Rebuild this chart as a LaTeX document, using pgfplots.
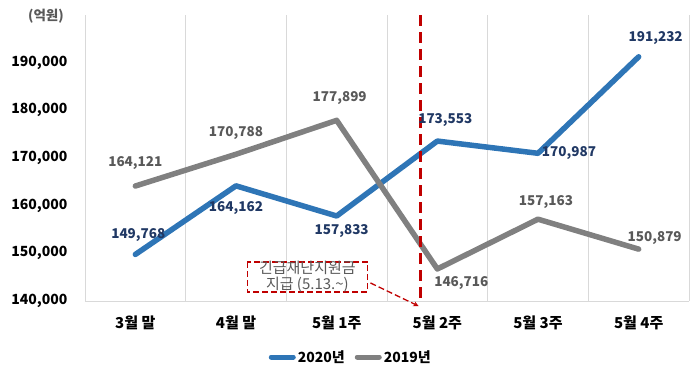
\documentclass[border=0pt]{standalone}
\usepackage{fontspec}
\setmainfont{Noto Sans CJK KR}
\usepackage{pgfplots}
\usepackage{pgfplotstable}
\pgfplotsset{compat=1.18}
\definecolor{blueL}{HTML}{2E75B6}
\definecolor{grayL}{HTML}{808080}
\definecolor{navyT}{HTML}{203864}
\definecolor{grayT}{HTML}{595959}
\definecolor{gridc}{HTML}{D9D9D9}
\definecolor{redL}{HTML}{C00000}

\pgfplotstableread{
x y lab dx dy
0 149768 149,768 3 19
1 164162 164,162 0 -22
2 157833 157,833 5 -15
3 173553 173,553 8 21
4 170987 170,987 31 0
5 191232 191,232 17 19
}\tblA
\pgfplotstableread{
x y lab dx dy
0 164121 164,121 0 23
1 170788 170,788 0 21
2 177899 177,899 3 22
3 146716 146,716 24 -14
4 157163 157,163 8 17
5 150879 150,879 16 11
}\tblB

\begin{document}
\begin{tikzpicture}
\useasboundingbox (0,0) rectangle (700pt,383pt);
\begin{axis}[
  at={(85pt,82pt)}, anchor=south west,
  scale only axis, width=604pt, height=286pt,
  xmin=-0.5, xmax=5.5, ymin=140000, ymax=200000,
  clip=false,
  axis x line*=bottom, axis y line*=left,
  x axis line style={draw=gridc, line width=0.8pt, -},
  y axis line style={draw=none, -},
  xtick={0,1,2,3,4,5},
  xticklabels={3월 말,4월 말,5월 1주,5월 2주,5월 3주,5월 4주},
  minor xtick={-0.5,0.5,1.5,2.5,3.5,4.5,5.5},
  minor x grid style={draw=gridc, line width=0.8pt},
  xminorgrids=true,
  ytick={140000,150000,160000,170000,180000,190000},
  yticklabels={{140,000},{150,000},{160,000},{170,000},{180,000},{190,000}},
  major tick length=0pt, minor tick length=0pt,
  scaled y ticks=false,
  yticklabel style={font=\fontsize{14}{16}\selectfont\bfseries, text=black, xshift=-14pt},
  xticklabel style={font=\fontsize{15}{17}\selectfont\bfseries, text=black, yshift=-11pt},
  legend style={at={(axis description cs:0.44,-0.196)}, anchor=center, draw=none,
    font=\fontsize{14}{16}\selectfont\bfseries, legend columns=2,
    /tikz/every even column/.append style={column sep=8pt}},
  legend image code/.code={\draw[#1, line width=5pt, line cap=round] (0pt,0pt) -- (22pt,0pt);},
  nodes near coords={\pgfplotspointmeta},
  point meta=explicit symbolic,
  visualization depends on={\thisrow{dx} \as \dx},
  visualization depends on={\thisrow{dy} \as \dy},
  every node near coord/.append style={anchor=center, xshift=\dx pt, yshift=\dy pt,
    font=\fontsize{13.5}{15}\selectfont\bfseries},
]
\addplot[blueL, line width=5.5pt, line join=round, line cap=round,
  every node near coord/.append style={text=navyT}]
  table[x=x, y=y, meta=lab] {\tblA};
\addlegendentry{2020년}
\addplot[grayL, line width=5.5pt, line join=round, line cap=round,
  every node near coord/.append style={text=grayT}]
  table[x=x, y=y, meta=lab] {\tblB};
\addlegendentry{2019년}

% red dashed event line
\draw[redL, line width=2.8pt, dash pattern=on 11pt off 6pt] (axis cs:2.83,200000) -- (axis cs:2.83,140000);
% annotation box
\draw[redL, line width=1.3pt, dash pattern=on 6pt off 3pt] (axis cs:1.112,148193) rectangle (axis cs:2.306,141891);
\node[align=center, text=grayT, font=\fontsize{15}{16}\selectfont, inner sep=0pt] at (axis cs:1.709,145000) {긴급재난지원금\\지급 (5.13.\textasciitilde)};
\draw[redL, line width=1.3pt, dash pattern=on 6pt off 3pt, -stealth] (axis cs:2.336,143782) -- (axis cs:2.813,138950);
% unit label
\node[text=grayT, font=\fontsize{13.5}{15}\selectfont\bfseries] at (axis cs:-0.888,199664) {(억원)};
\end{axis}
\end{tikzpicture}
\end{document}
